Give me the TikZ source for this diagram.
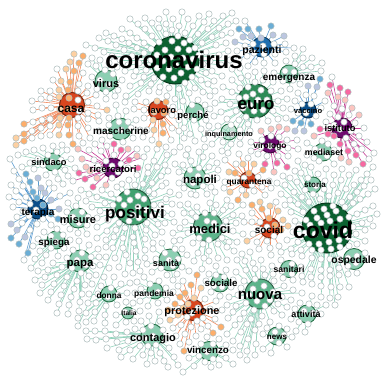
\documentclass[tikz,border=0pt]{standalone}
\usepackage{fontspec}
\setsansfont{Liberation Sans}

\definecolor{dkgreen}{HTML}{0B6130}
\definecolor{eurogreen}{HTML}{2E8B57}
\definecolor{midgreen}{HTML}{41A170}
\definecolor{softgreen}{HTML}{5DB48B}
\definecolor{palegreen}{HTML}{8CCFB2}
\definecolor{hubred}{HTML}{D9461F}
\definecolor{hubpurple}{HTML}{6E0A6E}
\definecolor{hubblue}{HTML}{0B4F8A}
\definecolor{hubblue2}{HTML}{1F6FB0}
\definecolor{leafline}{HTML}{B2C0C0}
\definecolor{lnkgreen}{HTML}{93D2BC}
\definecolor{lnkred}{HTML}{F08A5E}
\definecolor{lnkpurple}{HTML}{C43D96}
\definecolor{lnkblue}{HTML}{5A9BD0}
\definecolor{gleaf0}{HTML}{FFFFFF}
\definecolor{gleaf1}{HTML}{FFFFFF}
\definecolor{rleaf0}{HTML}{FDD0A2}
\definecolor{rleaf1}{HTML}{FDAE6B}
\definecolor{pleaf0}{HTML}{F768A1}
\definecolor{pleaf1}{HTML}{FCC5C0}
\definecolor{bleaf0}{HTML}{6BAED6}
\definecolor{bleaf1}{HTML}{BCC6E0}

\pgfdeclarelayer{links}
\pgfdeclarelayer{words}
\pgfsetlayers{links,main,words}

\newcount\bestscore
\newcount\curscore

% hub name / x / y / pull / kind
\def\hublist{%
  \hb{coronavirus}{175}{60}{42}{g}\hb{covid}{327}{228}{42}{g}%
  \hb{euro}{255}{101}{30}{g}\hb{positivi}{133}{207}{34}{g}%
  \hb{medici}{208}{227}{26}{g}\hb{nuova}{260}{294}{28}{g}%
  \hb{casa}{72}{105}{24}{r}\hb{lavoro}{158}{110}{18}{r}%
  \hb{ricercatori}{113}{168}{22}{p}\hb{terapia}{38}{209}{20}{b}%
  \hb{pazienti}{262}{47}{20}{b}\hb{vaccino}{308}{110}{16}{b}%
  \hb{istituto}{342}{128}{24}{p}\hb{virologo}{270}{144}{18}{p}%
  \hb{quarantena}{248}{180}{16}{r}\hb{social}{270}{228}{20}{r}%
  \hb{protezione}{193}{310}{22}{r}\hb{virus}{106}{81}{14}{g}%
  \hb{mascherine}{120}{129}{14}{g}\hb{perche}{195}{112}{12}{g}%
  \hb{emergenza}{289}{74}{14}{g}\hb{inquinamento}{229}{132}{10}{g}%
  \hb{mediaset}{323}{152}{12}{g}\hb{storia}{313}{185}{11}{g}%
  \hb{napoli}{195}{178}{16}{g}\hb{sindaco}{53}{162}{14}{g}%
  \hb{misure}{78}{218}{13}{g}\hb{spiega}{56}{240}{13}{g}%
  \hb{papa}{80}{261}{16}{g}\hb{sanita}{170}{260}{16}{g}%
  \hb{donna}{109}{294}{11}{g}\hb{pandemia}{155}{291}{12}{g}%
  \hb{italia}{128}{313}{9}{g}\hb{contagio}{152}{335}{17}{g}%
  \hb{vincenzo}{209}{351}{13}{g}\hb{sociale}{220}{283}{13}{g}%
  \hb{sanitari}{289}{269}{11}{g}\hb{ospedale}{354}{259}{15}{g}%
  \hb{attivita}{307}{314}{13}{g}\hb{news}{277}{336}{12}{g}%
}
\def\hb#1#2#3#4#5{%
  \curscore=\numexpr((\leafx-#2)*(\leafx-#2)+(\leafy-#3)*(\leafy-#3))*100/(#4*#4)\relax
  \ifnum\curscore<\bestscore \bestscore=\curscore \def\besthub{#1}\def\bestkind{#5}\fi}
% integer angle folded into 0..360
\def\foldang#1{\the\numexpr(#1)-360*(((#1)-180)/360)\relax}
\def\linklist{}
\def\lk#1#2#3{\draw[lnk-#3] (#1.center) -- (l#2.center);}

\tikzset{
  hub/.style={circle, fill=#1, draw=#1!55!black, line width=1pt, inner sep=0pt},
  lighthub/.style={circle, fill=palegreen, draw=eurogreen!80!black, line width=0.9pt, inner sep=0pt},
  leaf/.style={circle, draw=leafline, fill=white, line width=0.55pt, inner sep=0pt, minimum size=6.4pt},
  lnk-g/.style={draw=lnkgreen, line width=0.6pt},
  lnk-r/.style={draw=lnkred, line width=0.6pt},
  lnk-p/.style={draw=lnkpurple, line width=0.6pt},
  lnk-b/.style={draw=lnkblue, line width=0.6pt},
  word/.style={font=\sffamily\bfseries\fontsize{#1}{#1}\selectfont, inner sep=0pt, anchor=base},
}

\begin{document}
\begin{tikzpicture}[x=1pt,y=-1pt]
\useasboundingbox (0,0) rectangle (383,376);

% hubs
\node[hub=dkgreen, minimum size=48pt] (coronavirus) at (175,60) {};
\node[hub=dkgreen, minimum size=50pt] (covid) at (327,228) {};
\node[hub=eurogreen, minimum size=34pt] (euro) at (255,101) {};
\node[hub=midgreen, minimum size=36pt] (positivi) at (133,207) {};
\node[hub=softgreen, minimum size=29pt] (medici) at (208,227) {};
\node[hub=softgreen, minimum size=30pt] (nuova) at (260,294) {};
\node[hub=hubred, minimum size=25pt] (casa) at (72,105) {};
\node[hub=hubred, minimum size=19pt] (lavoro) at (158,110) {};
\node[hub=hubpurple, minimum size=20pt] (ricercatori) at (113,168) {};
\node[hub=hubblue, minimum size=20pt] (terapia) at (38,209) {};
\node[hub=hubblue2, minimum size=20pt] (pazienti) at (262,47) {};
\node[hub=hubblue, minimum size=16pt] (vaccino) at (308,110) {};
\node[hub=hubpurple, minimum size=20pt] (istituto) at (342,128) {};
\node[hub=hubpurple, minimum size=18pt] (virologo) at (270,144) {};
\node[hub=hubred, minimum size=16pt] (quarantena) at (248,180) {};
\node[hub=hubred, minimum size=20pt] (social) at (270,228) {};
\node[hub=hubred, minimum size=21pt] (protezione) at (193,310) {};
\node[lighthub, minimum size=22pt] (virus) at (106,81) {};
\node[lighthub, minimum size=22pt] (mascherine) at (120,129) {};
\node[lighthub, minimum size=18pt] (perche) at (195,112) {};
\node[lighthub, minimum size=18pt] (emergenza) at (289,74) {};
\node[lighthub, minimum size=16pt, fill opacity=0.5] (inquinamento) at (229,132) {};
\node[lighthub, minimum size=18pt] (mediaset) at (323,152) {};
\node[lighthub, minimum size=16pt] (storia) at (313,185) {};
\node[lighthub, minimum size=22pt] (napoli) at (195,178) {};
\node[lighthub, minimum size=18pt] (sindaco) at (53,162) {};
\node[lighthub, minimum size=20pt] (misure) at (78,218) {};
\node[lighthub, minimum size=18pt] (spiega) at (56,240) {};
\node[lighthub, minimum size=22pt] (papa) at (80,261) {};
\node[lighthub, minimum size=22pt] (sanita) at (170,260) {};
\node[lighthub, minimum size=16pt] (donna) at (109,294) {};
\node[lighthub, minimum size=16pt] (pandemia) at (155,291) {};
\node[lighthub, minimum size=12pt] (italia) at (128,313) {};
\node[lighthub, minimum size=22pt] (contagio) at (152,335) {};
\node[lighthub, minimum size=19pt] (vincenzo) at (209,351) {};
\node[lighthub, minimum size=18pt] (sociale) at (220,283) {};
\node[lighthub, minimum size=17pt] (sanitari) at (289,269) {};
\node[lighthub, minimum size=21pt] (ospedale) at (354,259) {};
\node[lighthub, minimum size=18pt] (attivita) at (307,314) {};
\node[lighthub, minimum size=18pt] (news) at (277,336) {};

% leaves, each tied to its closest hub
\foreach \k in {1,...,1250}{
  \edef\aa{\the\numexpr\k*137508-360000*((\k*137508-180000)/360000)\relax}
  \edef\ad{\the\numexpr(\aa-500)/1000\relax}
  \edef\af{\the\numexpr\aa-\ad*1000\relax}
  \edef\ja{\foldang{\k*97}}
  \edef\jb{\foldang{\k*61}}
  \pgfmathsetmacro\rr{sqrt((\k-0.5)/1250)}
  \pgfmathtruncatemacro\leafx{193+186*\rr*cos(\ad+\af/1000)+1.5*sin(\ja)}
  \pgfmathtruncatemacro\leafy{191+181*\rr*sin(\ad+\af/1000)+1.5*cos(\jb)}
  \pgfmathtruncatemacro\tint{mod(\k,5)}
  \bestscore=2000000000
  \def\besthub{coronavirus}\def\bestkind{g}
  \hublist
  \ifnum\tint<2 \edef\leaffill{\bestkind leaf\tint}\else\def\leaffill{white}\fi
  \node[leaf, fill=\leaffill] (l\k) at (\leafx,\leafy) {};
  \xdef\linklist{\unexpanded\expandafter{\linklist}\noexpand\lk{\besthub}{\k}{\bestkind}}
}

% links under everything
\begin{pgfonlayer}{links}
\linklist
\end{pgfonlayer}

% words
\begin{pgfonlayer}{words}
\node[word=24] (coronavirus-t) at (174,68) {coronavirus};
\node[word=23] (covid-t) at (323,238) {covid};
\node[word=17] (euro-t) at (256,109) {euro};
\node[word=17] (positivi-t) at (135,218) {positivi};
\node[word=13] (medici-t) at (210,233) {medici};
\node[word=15] (nuova-t) at (260,299) {nuova};
\node[word=12] (casa-t) at (71,112) {casa};
\node[word=9.3] (lavoro-t) at (162,113) {lavoro};
\node[word=9.6] (ricercatori-t) at (113,172) {ricercatori};
\node[word=10] (terapia-t) at (38,215) {terapia};
\node[word=10.5] (pazienti-t) at (262,53) {pazienti};
\node[word=7.6] (vaccino-t) at (308,113) {vaccino};
\node[word=9.3] (istituto-t) at (340,131) {istituto};
\node[word=8.4] (virologo-t) at (270,148) {virologo};
\node[word=8.3] (quarantena-t) at (249,184) {quarantena};
\node[word=10] (social-t) at (269,233) {social};
\node[word=10.9] (protezione-t) at (192,314) {protezione};
\node[word=11] (virus-t) at (106,87) {virus};
\node[word=10] (mascherine-t) at (121,134) {mascherine};
\node[word=9.5] (perche-t) at (193,118) {perché};
\node[word=10] (emergenza-t) at (289,80) {emergenza};
\node[word=7.3] (inquinamento-t) at (229,136) {inquinamento};
\node[word=8.8] (mediaset-t) at (324,155) {mediaset};
\node[word=8] (storia-t) at (315,187) {storia};
\node[word=11.5] (napoli-t) at (200,183) {napoli};
\node[word=9.3] (sindaco-t) at (49,165) {sindaco};
\node[word=11] (misure-t) at (78,223) {misure};
\node[word=9.8] (spiega-t) at (54,245) {spiega};
\node[word=11.5] (papa-t) at (80,266) {papa};
\node[word=9] (sanita-t) at (166,266) {sanità};
\node[word=8.3] (donna-t) at (109,298) {donna};
\node[word=8.5] (pandemia-t) at (154,296) {pandemia};
\node[word=6.6] (italia-t) at (129,315.5) {Italia};
\node[word=11] (contagio-t) at (153,341) {contagio};
\node[word=9.8] (vincenzo-t) at (208,353) {vincenzo};
\node[word=9.7] (sociale-t) at (221,286) {sociale};
\node[word=8.7] (sanitari-t) at (289,272) {sanitari};
\node[word=10.4] (ospedale-t) at (354,263) {ospedale};
\node[word=9] (attivita-t) at (306,317) {attività};
\node[word=8] (news-t) at (277,339) {news};
\end{pgfonlayer}
\end{tikzpicture}
\end{document}
